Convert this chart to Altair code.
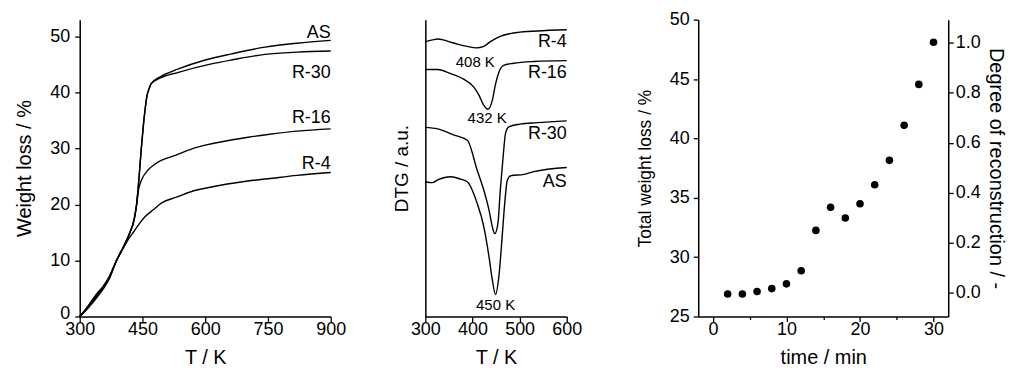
import altair as alt
import pandas as pd

FONT = "Liberation Sans"

# ---------------- Panel 1: TGA weight-loss curves ----------------
tga_samples = ["AS", "R-30", "R-16", "R-4"]
as_T = [300, 320, 340, 355, 370, 388, 405, 420, 430, 436, 442, 447, 452, 456, 461, 466, 471, 490, 536, 600, 663, 743, 820, 900]
as_W = [0, 1.6, 3.6, 5.0, 6.8, 10.0, 12.5, 15.0, 17.3, 20.0, 25.0, 29.8, 34.0, 36.8, 39.5, 40.7, 41.6, 42.7, 44.2, 45.8, 46.9, 48.1, 48.8, 49.3]
r30_T = [300, 320, 340, 355, 370, 388, 405, 420, 430, 436, 442, 447, 452, 456, 461, 466, 471, 490, 536, 615, 663, 743, 820, 900]
r30_W = [0, 1.9, 4.0, 5.3, 7.0, 10.0, 12.5, 15.0, 17.3, 20.0, 25.0, 29.8, 34.0, 36.8, 39.5, 40.7, 41.6, 42.5, 43.6, 45.1, 45.8, 46.8, 47.2, 47.4]
r16_T = [300, 320, 340, 355, 370, 388, 405, 420, 430, 436, 441, 448, 464, 480, 496, 530, 575, 600, 702, 750, 820, 900]
r16_W = [0, 1.5, 3.3, 4.8, 6.6, 10.0, 12.5, 15.0, 17.3, 20.0, 22.8, 24.4, 26.2, 27.2, 27.9, 28.8, 30.1, 30.6, 32.0, 32.5, 33.1, 33.5]
r4_T = [300, 320, 340, 355, 370, 388, 405, 420, 428, 440, 456, 475, 496, 531, 575, 600, 702, 750, 820, 900]
r4_W = [0, 1.7, 3.8, 5.2, 7.0, 10.0, 12.3, 14.2, 15.0, 16.3, 17.8, 19.0, 20.3, 21.3, 22.5, 22.9, 24.2, 24.6, 25.2, 25.7]
tga_label_T = [900, 900, 900, 900]
tga_label_W = [50.6, 43.4, 35.4, 27.3]

# ---------------- Panel 2: DTG curves (offset, arbitrary units) ----------------
dtg_samples = ["R-4", "R-16", "R-30", "AS"]
d_r4_T = [300, 315, 326, 340, 354, 370, 389, 408, 424, 438, 459, 480, 495, 537, 600]
d_r4_Y = [92.6, 93.2, 93.5, 93.1, 92.4, 91.7, 91.0, 90.5, 91.0, 92.6, 94.4, 95.3, 95.7, 96.2, 96.6]
d_r16_T = [300, 326, 354, 382, 403, 414, 424, 433, 442, 449, 456, 466, 487, 530, 600]
d_r16_Y = [83.2, 83.2, 81.8, 79.9, 77.3, 74.5, 71.1, 69.8, 72.8, 78.4, 82.3, 84.6, 85.3, 85.9, 86.2]
d_r30_T = [300, 326, 361, 389, 410, 424, 435, 442, 447, 454, 459, 465, 470, 477, 501, 537, 600]
d_r30_Y = [63.7, 63.2, 61.1, 59.4, 49.3, 42.6, 35.9, 30.3, 27.9, 31.4, 42.6, 53.8, 61.6, 63.9, 64.8, 65.3, 65.9]
d_as_T = [300, 315, 326, 354, 375, 389, 410, 424, 435, 442, 449, 456, 463, 469, 474, 481, 509, 530, 600]
d_as_Y = [45.4, 45.1, 46.0, 47.1, 46.3, 45.4, 38.1, 30.3, 20.2, 12.4, 7.4, 13.5, 26.9, 39.3, 46.0, 47.4, 47.9, 48.8, 50.2]
dtg_label_T = [600, 600, 600, 600]
dtg_label_Y = [92.4, 82.0, 61.6, 45.4]
peak_text = ["408 K", "432 K", "450 K"]
peak_T = [406, 431, 449]
peak_Y = [85.9, 66.7, 3.7]

# ---------------- Panel 3: total weight loss vs time ----------------
time_min = [2, 4, 6, 8, 10, 12, 14, 16, 18, 20, 22, 24, 26, 28, 30]
total_loss = [26.9, 26.9, 27.1, 27.35, 27.75, 28.85, 32.25, 34.2, 33.3, 34.5, 36.1, 38.15, 41.1, 44.55, 48.1]
degree_ticks = [0.0, 0.2, 0.4, 0.6, 0.8, 1.0]

# ---------------- build tables ----------------
def long_table(names, xs_list, ys_list, xname, yname):
    rows = []
    for n, xs, ys in zip(names, xs_list, ys_list):
        for i, (a, b) in enumerate(zip(xs, ys)):
            rows.append({"sample": n, xname: a, yname: b, "i": i})
    return pd.DataFrame(rows)

df_tga = long_table(tga_samples, [as_T, r30_T, r16_T, r4_T], [as_W, r30_W, r16_W, r4_W], "T", "W")
df_tga_lab = pd.DataFrame({"label": tga_samples, "T": tga_label_T, "W": tga_label_W})
df_dtg = long_table(dtg_samples, [d_r4_T, d_r16_T, d_r30_T, d_as_T], [d_r4_Y, d_r16_Y, d_r30_Y, d_as_Y], "T", "Y")
df_dtg_lab = pd.DataFrame({"label": dtg_samples, "T": dtg_label_T, "Y": dtg_label_Y})
df_peak = pd.DataFrame({"label": peak_text, "T": peak_T, "Y": peak_Y})
df_pts = pd.DataFrame({"t": time_min, "loss": total_loss})
df_deg = pd.DataFrame({"deg": degree_ticks})

H = 298
TICK_FS = 18
TITLE_FS = 20
LINE_W = 1.4


def minor_axis(title, values, major_mod, title_pad=9, label_pad=-1, title_fs=TITLE_FS, label_offset=0):
    return alt.Axis(
        title=title,
        values=values,
        labelExpr=f"datum.value % {major_mod} == 0 ? datum.label : ''",
        tickSize={"condition": {"test": f"datum.value % {major_mod} != 0", "value": 3}, "value": 5},
        labelOverlap=False,
        labelFlush=False,
        titlePadding=title_pad,
        labelPadding=label_pad,
        labelOffset=label_offset,
        titleFontWeight=400,
        titleFontSize=title_fs,
    )


# Panel 1
x1 = alt.X("T:Q", scale=alt.Scale(domain=[300, 900], nice=False, zero=False),
           axis=minor_axis("T / K", list(range(300, 901, 75)), 150))
y1 = alt.Y("W:Q", scale=alt.Scale(domain=[0, 53], nice=False),
           axis=minor_axis("Weight loss / %", list(range(0, 51, 5)), 10, title_pad=15, label_pad=5,
                           label_offset={"condition": {"test": "datum.value == 0", "value": -3}, "value": 0}))
p1_lines = alt.Chart(df_tga).mark_line(color="black", strokeWidth=LINE_W, interpolate="monotone").encode(
    x=x1, y=y1, detail="sample:N", order="i:Q")
p1_text = alt.Chart(df_tga_lab).mark_text(align="right", baseline="middle", fontSize=18, font=FONT, color="black").encode(
    x="T:Q", y="W:Q", text="label:N")
p1 = alt.layer(p1_lines, p1_text).properties(width=252, height=H)

# Panel 2
x2 = alt.X("T:Q", scale=alt.Scale(domain=[300, 600], nice=False, zero=False),
           axis=minor_axis("T / K", list(range(300, 601, 50)), 100))
y2 = alt.Y("Y:Q", scale=alt.Scale(domain=[0, 100], nice=False),
           axis=alt.Axis(title="DTG / a.u.", labels=False, ticks=False, titlePadding=14,
                         titleFontWeight=400, titleFontSize=19))
p2_lines = alt.Chart(df_dtg).mark_line(color="black", strokeWidth=LINE_W, interpolate="monotone").encode(
    x=x2, y=y2, detail="sample:N", order="i:Q")
p2_text = alt.Chart(df_dtg_lab).mark_text(align="right", baseline="middle", fontSize=18, font=FONT, color="black").encode(
    x="T:Q", y="Y:Q", text="label:N")
p2_peak = alt.Chart(df_peak).mark_text(align="center", baseline="middle", fontSize=15, font=FONT, color="black").encode(
    x="T:Q", y="Y:Q", text="label:N")
p2 = alt.layer(p2_lines, p2_text, p2_peak).properties(width=142, height=H)

# Panel 3
x3 = alt.X("t:Q", scale=alt.Scale(domain=[-2, 32], nice=False, zero=False),
           axis=minor_axis("time / min", list(range(0, 31, 5)), 10))
p3_pts = alt.Chart(df_pts).mark_circle(size=58, color="black", opacity=1).encode(
    x=x3,
    y=alt.Y("loss:Q", scale=alt.Scale(domain=[25, 50], nice=False, zero=False),
            axis=alt.Axis(title="Total weight loss / %", values=[25, 30, 35, 40, 45, 50],
                          tickSize=5, labelPadding=4, titlePadding=15, titleFontWeight=400,
                          titleFontSize=17.5)))
p3_right = alt.Chart(df_deg).mark_point(opacity=0).encode(
    y=alt.Y("deg:Q", scale=alt.Scale(domain=[-0.0943, 1.0915], nice=False, zero=False),
            axis=alt.Axis(title="Degree of reconstruction / -", orient="right", values=degree_ticks,
                          format=".1f", tickSize=5, labelPadding=2, titlePadding=5, titleAngle=90,
                          titleFontWeight=400, titleFontSize=20)))
p3 = alt.layer(p3_pts, p3_right).resolve_scale(y="independent").properties(width=251, height=H)

chart = alt.hconcat(
    alt.hconcat(p1, p2, spacing=46),
    p3,
    spacing=53,
).properties(
    padding={"left": 6, "top": 2, "right": 2, "bottom": 0}
).configure_view(stroke=None).configure_axis(
    grid=False,
    domainColor="black",
    domainWidth=1.5,
    tickColor="black",
    tickWidth=1.3,
    labelColor="black",
    titleColor="black",
    labelFont=FONT,
    titleFont=FONT,
    labelFontSize=TICK_FS,
    titleFontSize=TITLE_FS,
    titleFontWeight=400,
).configure_axisBottom(titleFontWeight=400).configure_text(font=FONT)

chart.save("out.html", embed_options={"renderer": "svg", "actions": False})
